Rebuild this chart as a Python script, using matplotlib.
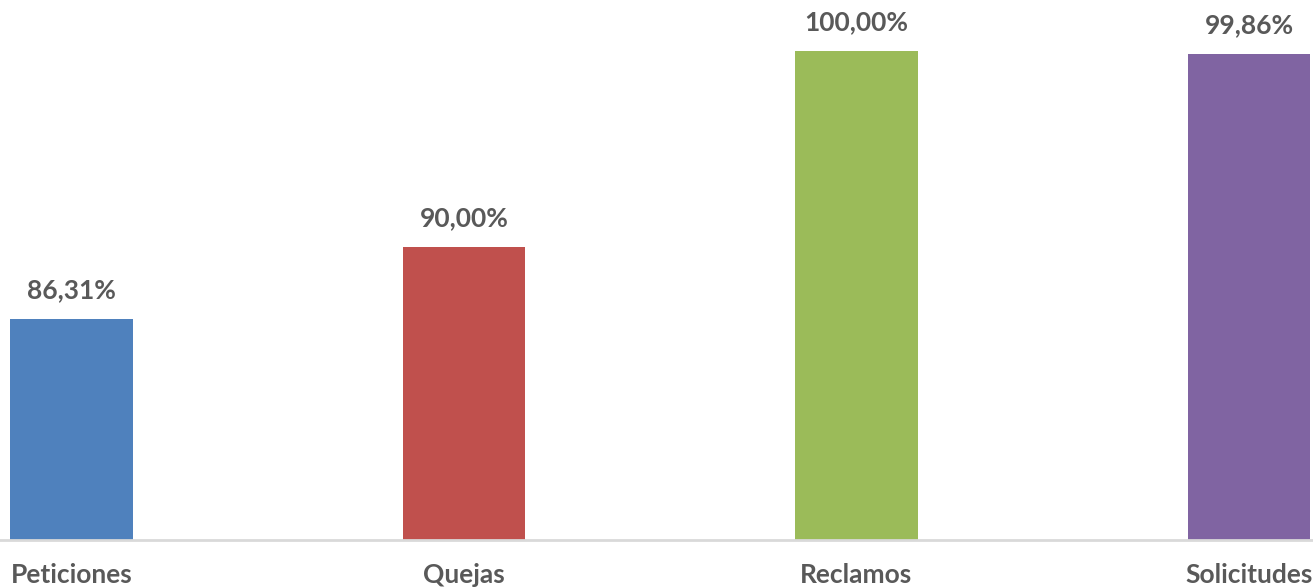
import matplotlib
matplotlib.use("Agg")
import matplotlib.pyplot as plt

categories = ["Peticiones", "Quejas", "Reclamos", "Solicitudes"]
values = [86.31, 90.00, 100.00, 99.86]
labels = ["86,31%", "90,00%", "100,00%", "99,86%"]
colors = ["#4F81BD", "#C0504D", "#9BBB59", "#8064A2"]

plt.rcParams['font.family'] = ['Lato', 'DejaVu Sans']

fig = plt.figure(figsize=(13.13, 5.88), dpi=100)
ax = fig.add_axes([0, 0.081, 1, 0.919])
x = list(range(len(categories)))
ax.bar(x, values, width=0.313, color=colors, bottom=0)
ax.set_ylim(75, 102.6)
ax.set_xlim(-0.182, 3.163)

for xi, v, lab in zip(x, values, labels):
    ax.annotate(lab, (xi, v), xytext=(0, 12), textcoords="offset points",
                ha="center", va="bottom", fontsize=19, fontweight="bold",
                color="#595959")

ax.set_xticks(x)
ax.set_xticklabels(categories, fontsize=19, fontweight="bold", color="#595959")
ax.tick_params(axis="x", length=0, pad=16)
ax.set_yticks([])
for s in ["top", "left", "right"]:
    ax.spines[s].set_visible(False)
ax.spines["bottom"].set_color("#D9D9D9")
ax.spines["bottom"].set_linewidth(2)

fig.savefig("out.png", dpi=100)
